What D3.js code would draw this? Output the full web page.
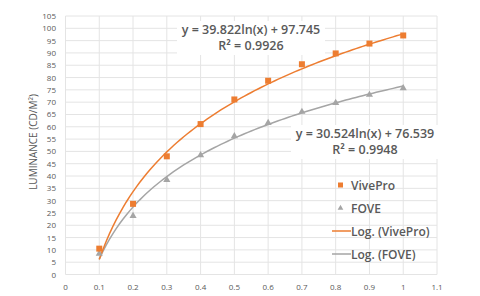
<!DOCTYPE html>
<html>
<head>
<meta charset="utf-8">
<script src="https://cdn.jsdelivr.net/npm/d3@7"></script>
<style>
  body { margin: 0; background: #fff; }
  text { font-family: "Open Sans", "Liberation Sans", sans-serif; }
</style>
</head>
<body>
<svg id="chart"></svg>
<script>
// data
const xValues = [0.1, 0.2, 0.3, 0.4, 0.5, 0.6, 0.7, 0.8, 0.9, 1.0];
const vivePro = [10.5, 28.7, 48, 61.1, 71.1, 78.7, 85.4, 89.8, 93.8, 97.1];
const fove = [8.5, 23.8, 38.4, 48.5, 56.2, 61.6, 66.1, 69.7, 73.0, 75.7];
// trendline coefficients shown on the chart: y = a ln(x) + b
const viveFit = { a: 39.822, b: 97.745, r2: "0.9926" };
const foveFit = { a: 30.524, b: 76.539, r2: "0.9948" };
const xTicks = [0, 0.1, 0.2, 0.3, 0.4, 0.5, 0.6, 0.7, 0.8, 0.9, 1, 1.1];
const yTicks = d3.range(0, 106, 5);

const width = 480, height = 296;
const orange = "#ed7d31", gray = "#a5a5a5", textCol = "#595959";

const svg = d3.select("#chart")
  .attr("width", width)
  .attr("height", height);

const x = d3.scaleLinear().domain([0, 1.1]).range([65.5, 437]);
const y = d3.scaleLinear().domain([0, 105]).range([274.5, 16]);

// gridlines
svg.append("g")
  .selectAll("line.h")
  .data(yTicks)
  .join("line")
  .attr("x1", x(0)).attr("x2", x(1.1))
  .attr("y1", d => y(d)).attr("y2", d => y(d))
  .attr("stroke", "#e4e4e4");

svg.append("g")
  .selectAll("line.v")
  .data(xTicks)
  .join("line")
  .attr("y1", y(0)).attr("y2", y(105))
  .attr("x1", d => x(d)).attr("x2", d => x(d))
  .attr("stroke", "#e4e4e4");

// tick labels
svg.append("g")
  .selectAll("text")
  .data(yTicks)
  .join("text")
  .attr("x", 56)
  .attr("y", d => y(d) + 3)
  .attr("text-anchor", "end")
  .attr("font-size", "8px")
  .attr("fill", textCol)
  .text(d => d);

svg.append("g")
  .selectAll("text")
  .data(xTicks)
  .join("text")
  .attr("x", d => x(d))
  .attr("y", 290)
  .attr("text-anchor", "middle")
  .attr("font-size", "8px")
  .attr("fill", textCol)
  .text(d => d);

// axis title
svg.append("text")
  .attr("transform", "translate(37,142) rotate(-90)")
  .attr("text-anchor", "middle")
  .attr("font-size", "10px")
  .attr("fill", textCol)
  .text("LUMINANCE (CD/M²)");

// log trendlines
const line = d3.line().x(d => x(d[0])).y(d => y(d[1]));
function trend(fit) {
  const pts = d3.range(0.1, 1.0001, 0.01).map(t => [t, fit.a * Math.log(t) + fit.b]);
  return line(pts);
}
svg.append("path").attr("d", trend(foveFit))
  .attr("fill", "none").attr("stroke", gray).attr("stroke-width", 1.5);
svg.append("path").attr("d", trend(viveFit))
  .attr("fill", "none").attr("stroke", orange).attr("stroke-width", 1.5);

// markers
svg.append("g")
  .selectAll("path")
  .data(xValues.map((d, i) => [d, fove[i]]))
  .join("path")
  .attr("d", d3.symbol(d3.symbolTriangle, 22))
  .attr("transform", d => `translate(${x(d[0])},${y(d[1])})`)
  .attr("fill", gray);

svg.append("g")
  .selectAll("rect")
  .data(xValues.map((d, i) => [d, vivePro[i]]))
  .join("rect")
  .attr("x", d => x(d[0]) - 3)
  .attr("y", d => y(d[1]) - 3)
  .attr("width", 6).attr("height", 6)
  .attr("fill", orange);

// equation labels
function eqLabel(fit, cx, cy) {
  const g = svg.append("g").attr("font-size", "12.5px").attr("fill", textCol)
    .attr("font-weight", "600").attr("text-anchor", "middle");
  g.append("rect").attr("x", cx - 74).attr("y", cy - 13).attr("width", 148).attr("height", 34)
    .attr("fill", "#fff");
  g.append("text").attr("x", cx).attr("y", cy)
    .text(`y = ${fit.a}ln(x) + ${fit.b}`);
  g.append("text").attr("x", cx).attr("y", cy + 16)
    .text(`R² = ${fit.r2}`);
}
eqLabel(viveFit, 251, 34);
eqLabel(foveFit, 365, 138);

// legend
const legend = svg.append("g").attr("font-size", "12px").attr("font-weight", "600").attr("fill", textCol);
const items = [
  { label: "VivePro", type: "square", color: orange },
  { label: "FOVE", type: "triangle", color: gray },
  { label: "Log. (VivePro)", type: "line", color: orange },
  { label: "Log. (FOVE)", type: "line", color: gray }
];
items.forEach((it, i) => {
  const ly = 185 + i * 23;
  if (it.type === "square") {
    legend.append("rect").attr("x", 338).attr("y", ly - 2.5).attr("width", 5).attr("height", 5).attr("fill", it.color);
  } else if (it.type === "triangle") {
    legend.append("path").attr("d", d3.symbol(d3.symbolTriangle, 14))
      .attr("transform", `translate(340.5,${ly})`).attr("fill", it.color);
  } else {
    legend.append("line").attr("x1", 332).attr("x2", 351).attr("y1", ly).attr("y2", ly)
      .attr("stroke", it.color).attr("stroke-width", 1.5);
  }
  legend.append("text").attr("x", 351).attr("y", ly + 4.5).text(it.label);
});
</script>
</body>
</html>
